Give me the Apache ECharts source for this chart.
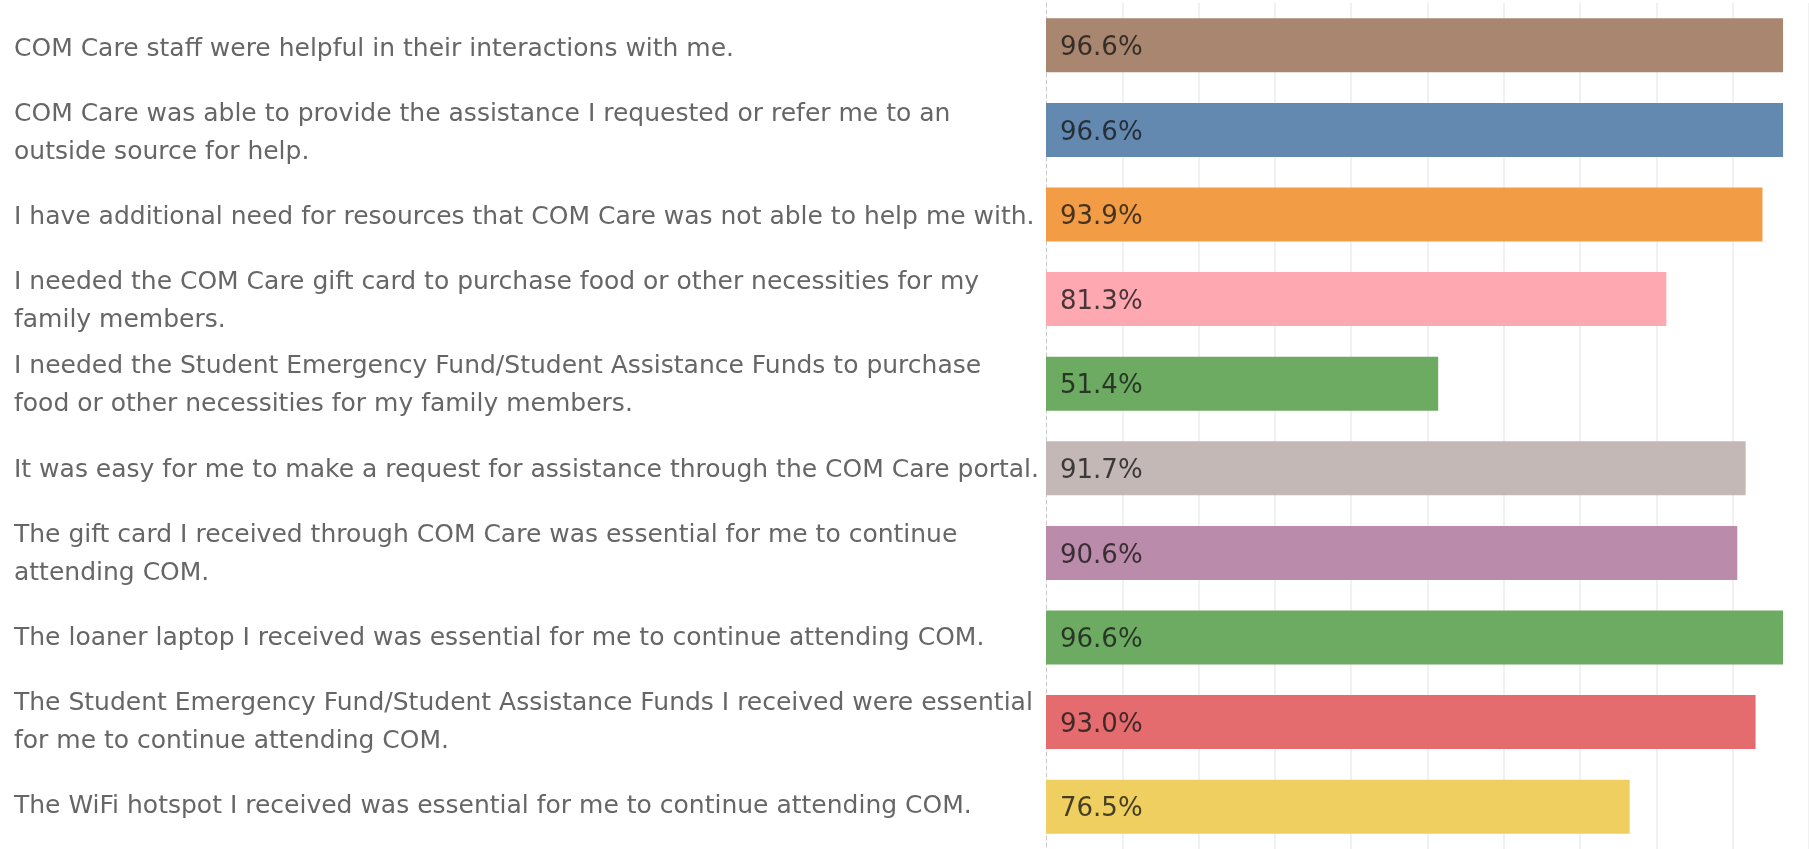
<!DOCTYPE html>
<html>
<head>
<meta charset="utf-8">
<script src="https://cdn.jsdelivr.net/npm/echarts@6/dist/echarts.min.js"></script>
<style>
    html, body { margin: 0; padding: 0; background: #fff; }
    #chart { width: 1809px; height: 849px; }
</style>
</head>
<body>
<div id="chart"></div>
<script>
// survey statements, top to bottom (wrapped the way the original table wraps them)
const statements = [
    'COM Care staff were helpful in their interactions with me.',
    'COM Care was able to provide the assistance I requested or refer me to an\noutside source for help.',
    'I have additional need for resources that COM Care was not able to help me with.',
    'I needed the COM Care gift card to purchase food or other necessities for my\nfamily members.',
    'I needed the Student Emergency Fund/Student Assistance Funds to purchase\nfood or other necessities for my family members.',
    'It was easy for me to make a request for assistance through the COM Care portal.',
    'The gift card I received through COM Care was essential for me to continue\nattending COM.',
    'The loaner laptop I received was essential for me to continue attending COM.',
    'The Student Emergency Fund/Student Assistance Funds I received were essential\nfor me to continue attending COM.',
    'The WiFi hotspot I received was essential for me to continue attending COM.'
];
// percent agreeing
const agreePct = [96.6, 96.6, 93.9, 81.3, 51.4, 91.7, 90.6, 96.6, 93.0, 76.5];
const barColors = [
    '#a8866f', '#6389b1', '#f29c45', '#fea8b1', '#6dab63',
    '#c3b8b5', '#ba8bab', '#6dab63', '#e56c6e', '#efcf5f'
];

const chart = echarts.init(document.getElementById('chart'));

const option = {
    animation: false,
    grid: [
        // bars
        { left: 1046, top: 3, width: 769, height: 848 },
        // row headers sit a few px lower than the bar centres
        { left: 1046, top: 7, width: 769, height: 848 }
    ],
    xAxis: [{
        type: 'value',
        min: 0,
        max: 100,
        interval: 10,
        axisLine: { show: false },
        axisTick: { show: false },
        axisLabel: { show: false },
        splitLine: {
            show: true,
            showMinLine: false,
            lineStyle: { color: '#ececec', width: 1.5 }
        }
    }, {
        type: 'value',
        gridIndex: 1,
        min: 0,
        max: 100,
        show: false
    }],
    yAxis: [{
        type: 'category',
        inverse: true,
        data: statements,
        axisLine: {
            show: true,
            lineStyle: { color: '#c8c8c8', type: [4, 3], width: 1 }
        },
        axisTick: { show: false },
        axisLabel: { show: false }
    }, {
        type: 'category',
        gridIndex: 1,
        inverse: true,
        data: statements,
        axisLine: { show: false },
        axisTick: { show: false },
        axisLabel: {
            align: 'left',
            margin: 1032,
            fontFamily: 'DejaVu Sans',
            fontSize: 25,
            lineHeight: 38,
            color: '#666666'
        }
    }],
    series: [{
        type: 'bar',
        barWidth: 54,
        data: agreePct.map(function (v, i) {
            return { value: v, itemStyle: { color: barColors[i] } };
        }),
        label: {
            show: true,
            position: 'insideLeft',
            distance: 14,
            offset: [0, 3],
            fontFamily: 'DejaVu Sans',
            fontSize: 26,
            color: 'rgba(20,20,20,0.78)',
            formatter: function (p) {
                return p.value.toFixed(1) + '%';
            }
        }
    }]
};

chart.setOption(option);
</script>
</body>
</html>
